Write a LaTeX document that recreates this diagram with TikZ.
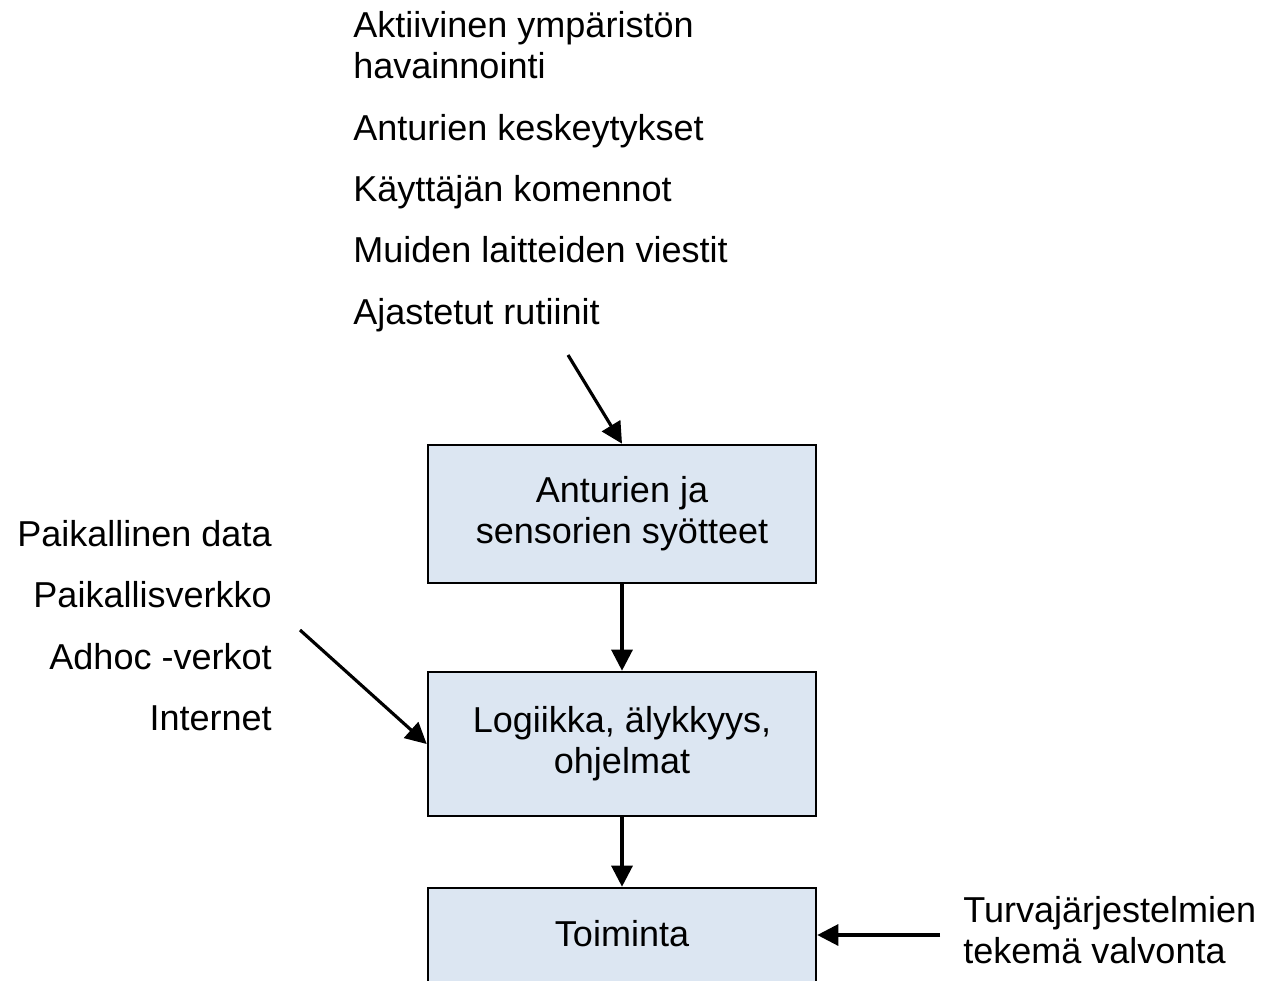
\documentclass[tikz,border=0pt]{standalone}
\usepackage{fontspec}
\setmainfont{Liberation Sans}
\usetikzlibrary{arrows.meta}

\begin{document}
\begin{tikzpicture}[x=0.02cm, y=-0.02cm,
    every node/.style={font=\fontsize{20.5}{23.5}\selectfont, inner sep=0pt},
    box/.style={draw, line width=1.5pt, fill=boxblue, minimum width=7.76cm, align=center},
    flow/.style={line width=1.8pt, -{Triangle[length=12pt, width=12pt]}}]
  \definecolor{boxblue}{HTML}{DCE6F2}
  \useasboundingbox (0,0) rectangle (1266,980);
  \clip (0,0) rectangle (1266,980);

  % boxes
  \node [box, minimum height=2.76cm] (syote) at (622,514) {Anturien ja\\sensorien syötteet};
  \node [box, minimum height=2.88cm] (logiikka) at (622,744) {Logiikka, älykkyys,\\ohjelmat};
  \node [box, minimum height=1.96cm, text depth=4.5pt] (toiminta) at (622,937) {Toiminta};

  % inputs on top
  \node [anchor=west, align=left] (aktiivinen) at (353,45) {Aktiivinen ympäristön\\havainnointi};
  \node [anchor=base west] (keskeytys) at (353,140) {Anturien keskeytykset};
  \node [anchor=base west] (komennot) at (353,201) {Käyttäjän komennot};
  \node [anchor=base west] (viestit) at (353,262) {Muiden laitteiden viestit};
  \node [anchor=base west] (rutiinit) at (353,324) {Ajastetut rutiinit};

  % inputs on the left
  \node [anchor=east] (data) at (272,534) {Paikallinen data};
  \node [anchor=east] (lan) at (272,595) {Paikallisverkko};
  \node [anchor=east] (adhoc) at (272,657) {Adhoc -verkot};
  \node [anchor=east] (internet) at (272,718) {Internet};

  % monitoring on the right
  \node [anchor=west, align=left] (valvonta) at (963,930) {Turvajärjestelmien\\tekemä valvonta};

  % arrows
  \coordinate (ylhaalla) at (568,355);
  \coordinate (vasen) at (300,630);
  \coordinate (oikea) at (940,935);
  \draw [flow] (ylhaalla) -- (syote.north);
  \draw [flow] (syote) -- (logiikka);
  \draw [flow] (vasen) -- (logiikka.west);
  \draw [flow] (logiikka) -- (toiminta);
  \draw [flow] (oikea) -- (oikea -| toiminta.east);
\end{tikzpicture}
\end{document}
